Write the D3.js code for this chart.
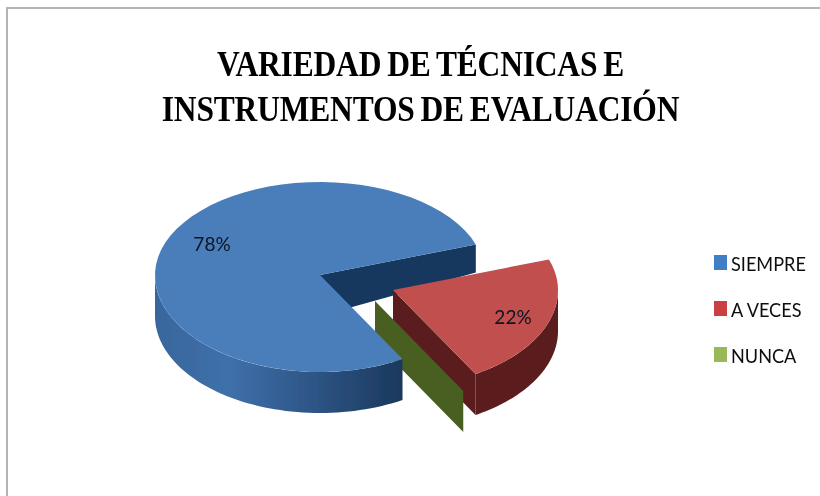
<!DOCTYPE html>
<html><head><meta charset="utf-8">
<script src="https://cdn.jsdelivr.net/npm/d3@7/dist/d3.min.js"></script>
<style>html,body{margin:0;padding:0;background:#fff}svg{display:block}</style>
</head><body><svg id="c" width="820" height="496"></svg>
<script>
const categories = ["SIEMPRE", "A VECES", "NUNCA"];
const values = [78, 22, 0];
const labels = ["78%", "22%", ""];
const titleLines = ["VARIEDAD DE TÉCNICAS E", "INSTRUMENTOS DE EVALUACIÓN"];
const faceColors = ["#4a7ebb", "#c0504d", "#98b954"];
const wallColors = ["#17375e", "#5a1d1b", "#4a5e22"];
const legendColors = ["#3f7fc6", "#c8403f", "#98b954"];

const svg = d3.select("#c");
const defs = svg.append("defs");
defs.append("filter").attr("id","soft").attr("x","-5%").attr("y","-5%").attr("width","110%").attr("height","110%")
  .append("feGaussianBlur").attr("stdDeviation",0.45);
const grad = defs.append("linearGradient").attr("id","blueWall");
[[0,"#38669c"],[0.3,"#3f70aa"],[0.65,"#2d5484"],[1,"#1a385c"]].forEach(s=>grad.append("stop").attr("offset",s[0]).attr("stop-color",s[1]));

const root = svg.append("g").attr("filter","url(#soft)");
root.append("path").attr("d","M7,496V8H820").attr("fill","none").attr("stroke","#b4b4b4").attr("stroke-width",2);

const rad = Math.PI/180;
const cx=320, cy=275, rx=165, ryFront=97, ryBack=93, depth=41;
const pie = d3.pie().sort(null).value(d=>d).startAngle(150*rad).endAngle(510*rad);
const arcs = pie(values);
const offsets = [[0,0,1],[73,15,1],[55,26,1.07]];
const px = d3.scaleLinear().domain([-1,1]).range([-rx,rx]);
const py = d3.scaleLinear().domain([-1,0,1]).range([ryFront,0,-ryBack]);
const pt = (a,o,d=0)=>[cx+o[0]+o[2]*px(Math.sin(a)), cy+o[1]+o[2]*py(Math.cos(a))+d];
const ctr = (o,d=0)=>[cx+o[0],cy+o[1]+d];
const line = d3.line();
const sweep = (a0,a1)=>d3.range(0,61).map(i=>a0+(a1-a0)*i/60);

function face(i){
  const s=arcs[i], o=offsets[i];
  return line([ctr(o),...sweep(s.startAngle,s.endAngle).map(a=>pt(a,o))])+"Z";
}
function outerWall(i,a0,a1){
  const o=offsets[i], top=sweep(a0,a1).map(a=>pt(a,o)), bot=sweep(a0,a1).map(a=>pt(a,o,depth)).reverse();
  return line([...top,...bot])+"Z";
}
function cutWall(i,a,dNear,dFar){
  const o=offsets[i];
  return line([ctr(o),pt(a,o),pt(a,o,dFar),ctr(o,dNear)])+"Z";
}
// blue cut wall (behind everything)
root.append("path").attr("d",cutWall(0,arcs[0].endAngle,41,28)).attr("fill",wallColors[0]);
// red slice
root.append("path").attr("d",outerWall(1,450*rad,arcs[1].endAngle)).attr("fill",wallColors[1]);
root.append("path").attr("d",cutWall(1,arcs[1].endAngle,depth,depth)).attr("fill",wallColors[1]);
root.append("path").attr("d",face(1)).attr("fill",faceColors[1]);
// zero-width green slice
root.append("path").attr("d",cutWall(2,arcs[2].startAngle,depth,depth)).attr("fill",wallColors[2]);
// blue slice
root.append("path").attr("d",outerWall(0,arcs[0].startAngle,270*rad)).attr("fill","url(#blueWall)");
root.append("path").attr("d",face(0)).attr("fill",faceColors[0]);

// data labels
const labelPos=[[212,251],[513,324]];
labels.forEach((t,i)=>{ if(t) root.append("text").attr("x",labelPos[i][0]).attr("y",labelPos[i][1])
  .attr("text-anchor","middle").attr("font-family","Lato").attr("font-size",19).attr("fill","#0c1420").text(t); });

// title
const titleY=[76,121];
root.selectAll("text.t").data(titleLines).join("text").attr("class","t")
  .attr("transform",(d,i)=>`translate(420.5,${titleY[i]}) scale(.875,1)`).attr("text-anchor","middle")
  .attr("font-family","Liberation Serif").attr("font-weight","bold").attr("font-size",36)
  .attr("letter-spacing",-0.2).attr("word-spacing",-2).attr("fill","#000").text(d=>d);

// legend
const ly = d3.scalePoint().domain(categories).range([262.5,354.5]);
const lg = root.selectAll("g.l").data(categories).join("g").attr("class","l").attr("transform",d=>`translate(714,${ly(d)})`);
lg.append("rect").attr("x",0).attr("y",-7.5).attr("width",13).attr("height",15).attr("fill",(d,i)=>legendColors[i]);
lg.append("text").attr("transform","translate(17,8) scale(.93,1)").attr("font-family","Lato").attr("font-size",19.5).attr("fill","#111").text(d=>d);
</script></body></html>
